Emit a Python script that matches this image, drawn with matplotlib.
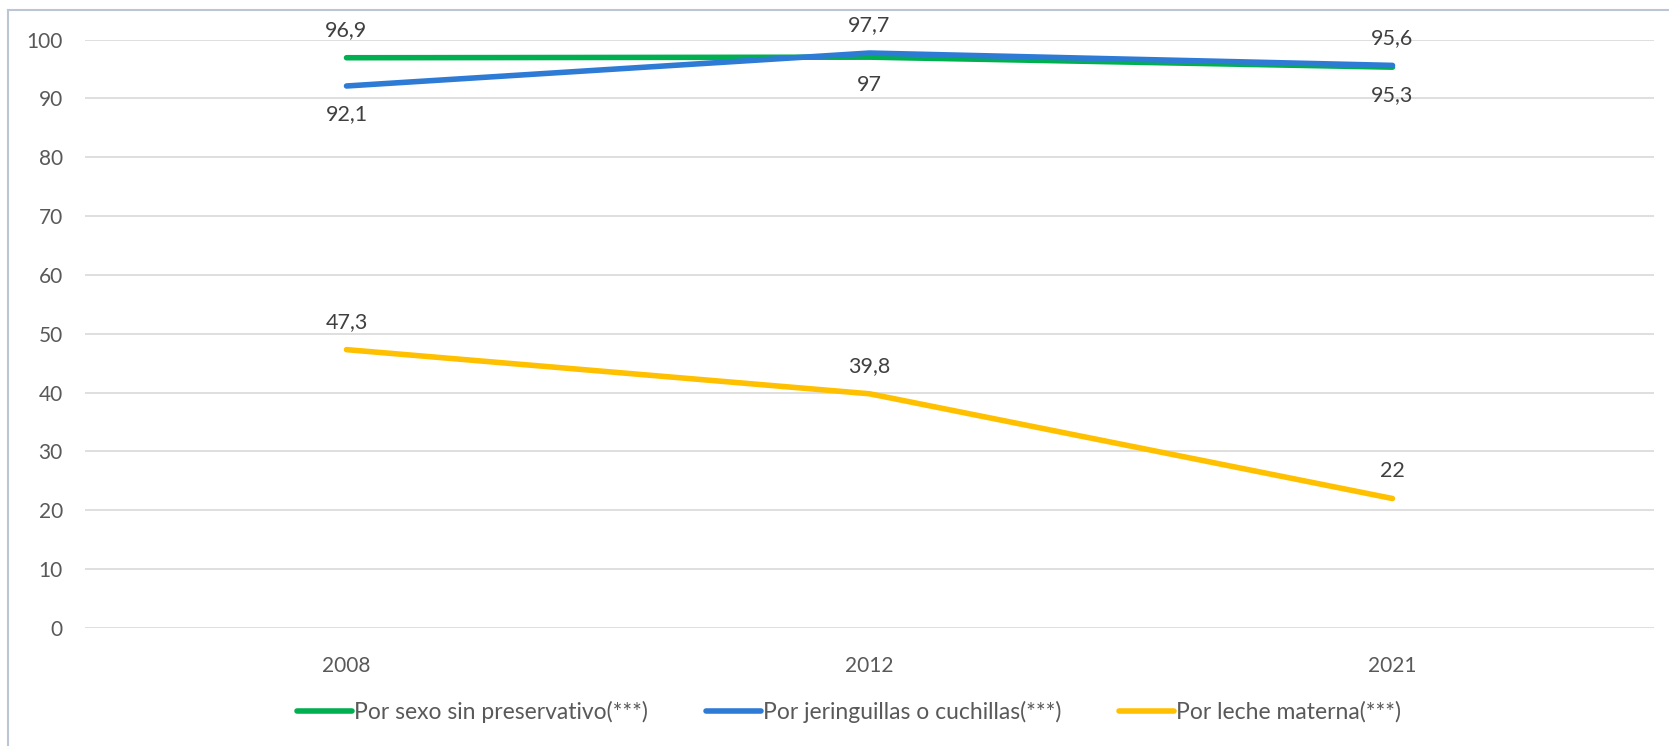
import matplotlib.pyplot as plt
from matplotlib.lines import Line2D

years = ['2008', '2012', '2021']
sexo = [96.9, 97, 95.3]
jeringuillas = [92.1, 97.7, 95.6]
leche = [47.3, 39.8, 22]
labels = ['Por sexo sin preservativo(***)', 'Por jeringuillas o cuchillas(***)', 'Por leche materna(***)']

plt.rcParams['font.family'] = ['Lato', 'DejaVu Sans']

W, H = 1669, 746
fig = plt.figure(figsize=(W / 100, H / 100), dpi=100)
ax = fig.add_axes([85 / W, 1 - 628 / H, (1654 - 85) / W, (628 - 39.5) / H])

x = range(len(years))
colors = ['#00B050', '#2E7BD6', '#FFC000']
series = [sexo, jeringuillas, leche]
for vals, c, lab in zip(series, colors, labels):
    ax.plot(x, vals, color=c, lw=4, solid_capstyle='round', label=lab, clip_on=False)

# data labels: above / below
pos = {
    0: ['up', 'down', 'down'],
    1: ['down', 'up', 'up'],
    2: ['up', 'up', 'up'],
}
for si, vals in enumerate(series):
    for i, v in enumerate(vals):
        dy = 20 if pos[si][i] == 'up' else -20
        txt = ('%g' % v).replace('.', ',')
        ax.annotate(txt, (i, v), xytext=(0, dy), textcoords='offset points',
                    ha='center', va='center', fontsize=15.5, color='#404040')

ax.set_xlim(-0.5, 2.5)
ax.set_ylim(0, 100)
ax.set_yticks(range(0, 101, 10))
ax.set_xticks(list(x))
ax.set_xticklabels(years)
ax.grid(axis='y', color='#D9D9D9', lw=1.2)
ax.set_axisbelow(True)
for s in ax.spines.values():
    s.set_visible(False)
ax.tick_params(length=0, labelsize=15, labelcolor='#595959')
ax.tick_params(axis='x', pad=20)
ax.tick_params(axis='y', pad=16)

ax.legend(loc='center', bbox_to_anchor=(849 / W, 1 - 712 / H), bbox_transform=fig.transFigure,
          ncol=3, frameon=False, fontsize=16.5, labelcolor='#595959',
          handlelength=2.4, handletextpad=0.1, columnspacing=2.5)

# chart border
fig.add_artist(Line2D([8 / W, 1], [1 - 10 / H, 1 - 10 / H], transform=fig.transFigure, color='#BCC5D6', lw=1.5))
fig.add_artist(Line2D([8 / W, 8 / W], [0, 1 - 10 / H], transform=fig.transFigure, color='#BCC5D6', lw=1.5))

fig.savefig('out.png', dpi=100)
